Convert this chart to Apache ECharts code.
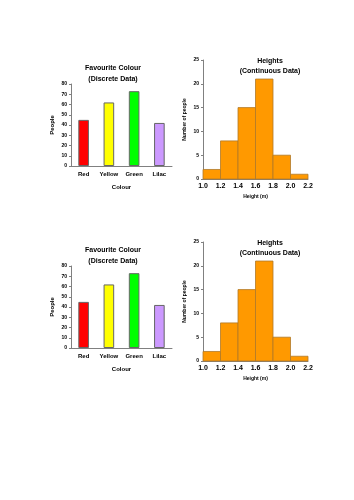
<!DOCTYPE html>
<html>
<head>
<meta charset="UTF-8">
<title>Favourite Colour and Heights</title>
<script type="text/javascript" src="https://cdn.jsdelivr.net/npm/echarts@6/dist/echarts.min.js"></script>
</head>
<body style="margin:0">
<div id="main" style="width:354px;height:500px"></div>

<script type="text/javascript">
	// data
	var colours=['Red','Yellow','Green','Lilac'];
	var people=[45,62,73,42];
	var barColours=['#ff0000','#ffff00','#00ff00','#cc99ff'];
	var heightFrom=[1.0,1.2,1.4,1.6,1.8,2.0];
	var heightTo=[1.2,1.4,1.6,1.8,2.0,2.2];
	var heightCounts=[2,8,15,21,5,1];

	// the sheet has the same two charts twice
	var offsets=[0,182];
	var font='Liberation Sans';
	var axisCol='#808080';

	var histData=[];
	for(var i=0;i<heightCounts.length;i++){
		histData.push([heightFrom[i],heightTo[i],heightCounts[i]]);
	}
	var barData=[];
	for(var i=0;i<people.length;i++){
		barData.push({value:people[i],itemStyle:{color:barColours[i]}});
	}

	var option={title:[],grid:[],xAxis:[],yAxis:[],series:[],animation:false};

	offsets.forEach(function(off,k){
		option.title.push({
			text:'Favourite Colour\n(Discrete Data)',
			left:108,top:58+off,textAlign:'center',
			textStyle:{fontFamily:font,fontSize:7,fontWeight:'bold',lineHeight:11,color:'#000'}
		});
		option.title.push({
			text:'Heights\n(Continuous Data)',
			left:265,top:51+off,textAlign:'center',
			textStyle:{fontFamily:font,fontSize:7,fontWeight:'bold',lineHeight:10,color:'#000'}
		});

		// bar chart
		option.grid.push({left:71,width:101,top:84+off,height:82});
		option.xAxis.push({
			type:'category',gridIndex:2*k,data:colours,
			name:'Colour',nameLocation:'middle',nameGap:18,
			nameTextStyle:{fontFamily:font,fontSize:6,fontWeight:'bold',color:'#000'},
			axisLine:{lineStyle:{color:axisCol}},
			axisTick:{length:2,lineStyle:{color:axisCol}},
			axisLabel:{fontFamily:font,fontSize:6,fontWeight:'bold',color:'#000',margin:5}
		});
		option.yAxis.push({
			type:'value',gridIndex:2*k,min:0,max:80,interval:10,
			name:'People',nameLocation:'middle',nameGap:16,
			nameTextStyle:{fontFamily:font,fontSize:6,fontWeight:'bold',color:'#000'},
			axisLine:{show:true,lineStyle:{color:axisCol}},
			axisTick:{show:true,length:2,lineStyle:{color:axisCol}},
			splitLine:{show:false},
			axisLabel:{fontFamily:font,fontSize:5,fontWeight:'bold',color:'#000',margin:4}
		});
		option.series.push({
			type:'bar',xAxisIndex:2*k,yAxisIndex:2*k,data:barData,barWidth:'42%',
			itemStyle:{borderColor:'#666',borderWidth:1}
		});

		// histogram
		option.grid.push({left:203,width:105,top:60+off,height:119});
		option.xAxis.push({
			type:'value',gridIndex:2*k+1,min:1.0,max:2.2,interval:0.2,
			name:'Height (m)',nameLocation:'middle',nameGap:15,
			nameTextStyle:{fontFamily:font,fontSize:5,fontWeight:'bold',color:'#000'},
			axisLine:{lineStyle:{color:axisCol}},
			axisTick:{show:false},
			splitLine:{show:false},
			axisLabel:{fontFamily:font,fontSize:7,fontWeight:'bold',color:'#000',margin:4,
				formatter:function(v){return v.toFixed(1);}}
		});
		option.yAxis.push({
			type:'value',gridIndex:2*k+1,min:0,max:25,interval:5,
			name:'Number of people',nameLocation:'middle',nameGap:16,
			nameTextStyle:{fontFamily:font,fontSize:5,fontWeight:'bold',color:'#000'},
			axisLine:{show:true,lineStyle:{color:axisCol}},
			axisTick:{show:true,length:2,lineStyle:{color:axisCol}},
			splitLine:{show:false},
			axisLabel:{fontFamily:font,fontSize:5,fontWeight:'bold',color:'#000',margin:4}
		});
		option.series.push({
			type:'custom',xAxisIndex:2*k+1,yAxisIndex:2*k+1,data:histData,
			encode:{x:[0,1],y:2},
			renderItem:function(params,api){
				var a=api.coord([api.value(0),api.value(2)]);
				var b=api.coord([api.value(1),0]);
				return {type:'rect',
					shape:{x:a[0],y:a[1],width:b[0]-a[0],height:b[1]-a[1]},
					style:{fill:'#ff9900',stroke:'#b07a2a',lineWidth:0.8}};
			}
		});
	});

	var mychart=echarts.init(document.getElementById("main"));
	mychart.setOption(option);
</script>
</body>
</html>
